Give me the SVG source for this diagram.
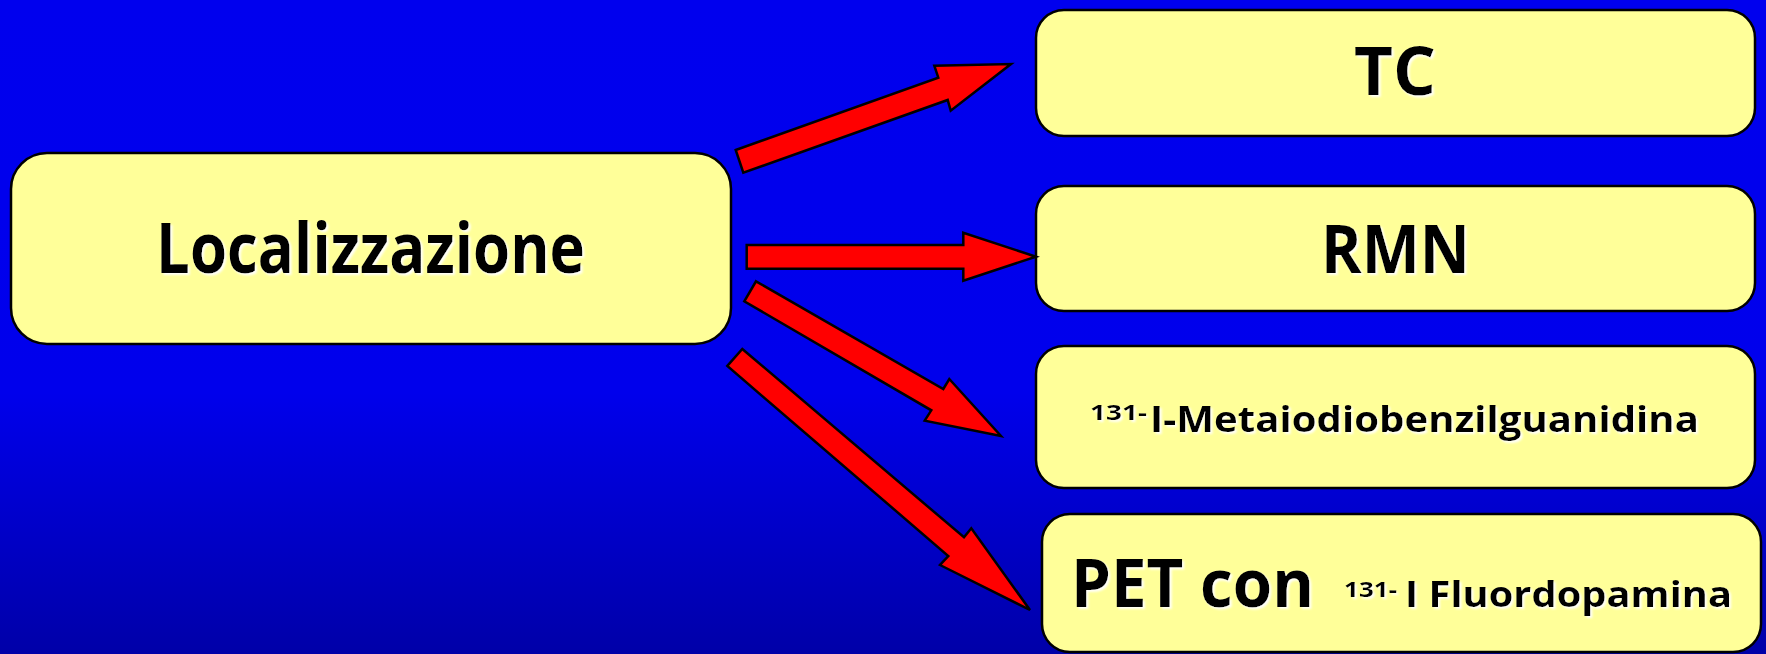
<svg xmlns="http://www.w3.org/2000/svg" width="1766" height="654" viewBox="0 0 1766 654">
  <defs>
    <linearGradient id="bg" x1="0" y1="0" x2="0" y2="1">
      <stop offset="0" stop-color="#0000EE"/>
      <stop offset="0.6" stop-color="#0000EC"/>
      <stop offset="1" stop-color="#0000A8"/>
    </linearGradient>
    <filter id="glow" x="-5%" y="-20%" width="110%" height="140%">
      <feDropShadow dx="2" dy="2" stdDeviation="1" flood-color="#ffffff" flood-opacity="0.95"/>
    </filter>
    <style>
      .box { fill: #FFFF99; stroke: #000; stroke-width: 2.5; }
      .arrow { fill: #FF0000; stroke: #000; stroke-width: 2.5; stroke-linejoin: miter; }
      .lbl { font-family: "Open Sans", "DejaVu Sans", sans-serif; font-weight: bold; fill: #000; filter: url(#glow); }
    </style>
  </defs>

  <rect x="0" y="0" width="1766" height="654" fill="url(#bg)"/>

  <g id="node-localizzazione">
    <rect class="box" x="11" y="153" width="720" height="191" rx="36" ry="36"/>
    <text class="lbl" x="156" y="273" font-size="70" textLength="429" lengthAdjust="spacingAndGlyphs">Localizzazione</text>
  </g>

  <g id="node-tc">
    <rect class="box" x="1036" y="10" width="719" height="126" rx="28" ry="28"/>
    <text class="lbl" x="1354" y="95" font-size="66" textLength="82" lengthAdjust="spacingAndGlyphs">TC</text>
  </g>

  <g id="node-rmn">
    <rect class="box" x="1036" y="186" width="719" height="125" rx="28" ry="28"/>
    <text class="lbl" x="1321" y="273" font-size="66" textLength="149" lengthAdjust="spacingAndGlyphs">RMN</text>
  </g>

  <g id="node-mibg">
    <rect class="box" x="1036" y="346" width="719" height="142" rx="28" ry="28"/>
    <text class="lbl" x="1090" y="420" font-size="22" textLength="57" lengthAdjust="spacingAndGlyphs">131-</text>
    <text class="lbl" x="1150" y="432" font-size="36" textLength="549" lengthAdjust="spacingAndGlyphs">I-Metaiodiobenzilguanidina</text>
  </g>

  <g id="node-pet">
    <rect class="box" x="1042" y="514" width="719" height="138" rx="28" ry="28"/>
    <text class="lbl" x="1071" y="607" font-size="66" textLength="243" lengthAdjust="spacingAndGlyphs">PET con</text>
    <text class="lbl" x="1344" y="597" font-size="21" textLength="53" lengthAdjust="spacingAndGlyphs">131-</text>
    <text class="lbl" x="1405" y="607" font-size="35" textLength="327" lengthAdjust="spacingAndGlyphs">I Fluordopamina</text>
  </g>

  <g id="connectors">
    <polygon class="arrow" points="735.7,150 938.3,77.7 934.3,65.7 1011,64 950.7,110.7 947.7,100 743.3,172.7"/>
    <polygon class="arrow" points="746.7,245 963.3,245 963.3,232.7 1036,256.7 963.3,280.7 963.3,268.7 746.7,268.7"/>
    <polygon class="arrow" points="756,281.3 943.3,389 949.3,379 1001,436 924.7,420.7 931.3,410.3 744.3,301.3"/>
    <polygon class="arrow" points="742.3,349 964,537.3 971.3,528.3 1030,610 940,565 948.3,556 727.3,366"/>
  </g>
</svg>
